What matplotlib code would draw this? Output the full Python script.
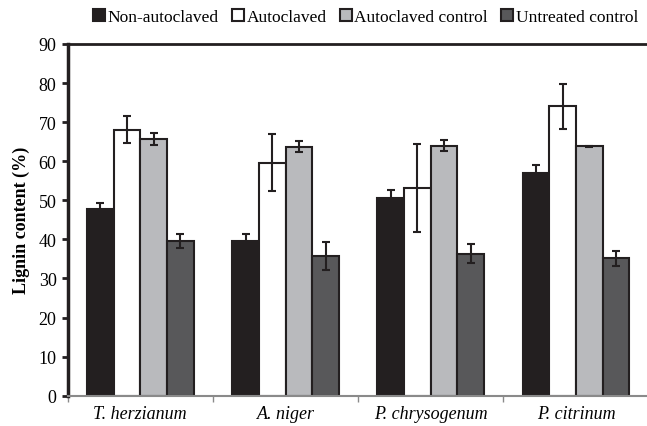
import matplotlib.pyplot as plt
import numpy as np

plt.rcParams['font.family'] = ['Liberation Serif', 'DejaVu Serif']

fungi = ["T. herzianum", "A. niger", "P. chrysogenum", "P. citrinum"]
treatments = ["Non-autoclaved", "Autoclaved", "Autoclaved control", "Untreated control"]

non_autoclaved = [47.8, 39.6, 50.6, 57.1]
autoclaved = [68.1, 59.6, 53.2, 74.0]
autoclaved_ctrl = [65.7, 63.7, 64.0, 63.8]
untreated_ctrl = [39.6, 35.8, 36.3, 35.2]

non_autoclaved_err = [1.5, 1.7, 2.0, 2.0]
autoclaved_err = [3.4, 7.3, 11.2, 5.8]
autoclaved_ctrl_err = [1.6, 1.4, 1.4, 0.2]
untreated_ctrl_err = [1.8, 3.6, 2.4, 1.9]

values = [non_autoclaved, autoclaved, autoclaved_ctrl, untreated_ctrl]
errors = [non_autoclaved_err, autoclaved_err, autoclaved_ctrl_err, untreated_ctrl_err]
colors = ["#231f20", "#ffffff", "#b9babd", "#58585a"]
edge = "#231f20"

fig = plt.figure(figsize=(6.47, 4.27), dpi=100)
ax = fig.add_axes([0.1046, 0.0710, 0.898, 0.8237])

x = np.arange(len(fungi))
w = 0.1835
for i, (vals, errs, col, lab) in enumerate(zip(values, errors, colors, treatments)):
    ax.bar(x + (i - 1.5) * w, vals, w, color=col, edgecolor=edge, linewidth=1.5,
           label=lab, zorder=2)
    ax.errorbar(x + (i - 1.5) * w, vals, yerr=errs, fmt="none", ecolor=edge,
                elinewidth=1.5, capsize=3, capthick=1.5, zorder=3)

ax.set_xlim(-0.5, 3.5)
ax.set_ylim(0, 90)
ax.set_yticks(range(0, 91, 10))
ax.set_xticks(x)
ax.set_xticklabels(fungi, fontstyle="italic", fontsize=13)
ax.set_xticks(np.arange(-0.5, 3.6, 1.0), minor=True)
ax.tick_params(axis="x", which="major", length=0, pad=7)
ax.tick_params(axis="x", which="minor", length=4, width=1, color="#8a8a8a")
ax.tick_params(axis="y", length=4, width=2, color="#231f20", labelsize=13, pad=4)

ax.spines["left"].set_linewidth(2.5)
ax.spines["left"].set_color("#231f20")
ax.spines["top"].set_linewidth(2)
ax.spines["top"].set_color("#231f20")
ax.spines["bottom"].set_linewidth(1.5)
ax.spines["bottom"].set_color("#8a8a8a")
ax.spines["right"].set_visible(False)

ax.set_ylabel("Lignin content (%)", fontweight="bold", fontsize=13, labelpad=6)

fig.legend(loc="center", bbox_to_anchor=(0.565, 0.958), ncol=4, frameon=False,
           fontsize=12.5, handlelength=0.7, handleheight=0.7, handletextpad=0.15,
           columnspacing=0.75, borderaxespad=0)

fig.savefig("out.png", dpi=100)
